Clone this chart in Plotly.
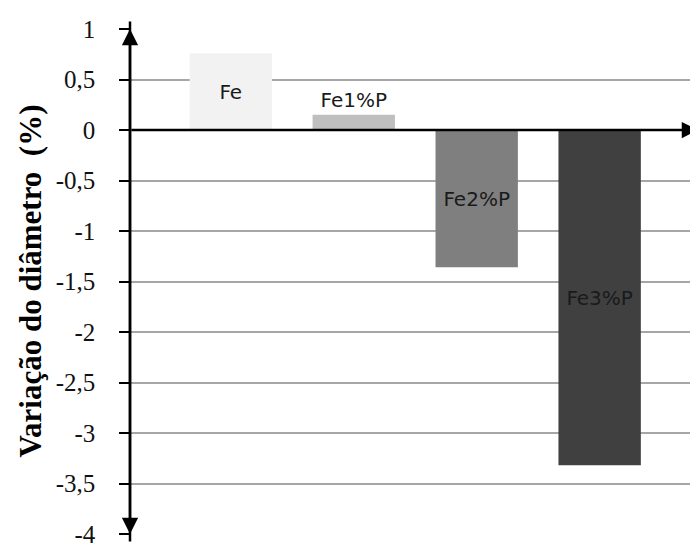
import plotly.graph_objects as go

categories = ["Fe", "Fe1%P", "Fe2%P", "Fe3%P"]
values = [0.76, 0.15, -1.36, -3.32]
colors = ["#f2f2f2", "#bfbfbf", "#7f7f7f", "#404040"]
label_positions = ["inside", "outside", "inside", "inside"]
x_pos = [1, 2, 3, 4]
y_ticks = [1, 0.5, 0, -0.5, -1, -1.5, -2, -2.5, -3, -3.5, -4]
y_ticktext = [f"{v:g}".replace(".", ",") + "\u00a0\u00a0\u00a0" for v in y_ticks]
y_title = "Variação do diâmetro \u00a0(%)"

fig = go.Figure()
fig.add_trace(go.Bar(
    x=x_pos, y=values, width=0.67,
    marker=dict(color=colors, line=dict(width=0)),
    text=categories, textposition=label_positions,
    insidetextanchor="middle", textangle=0, constraintext="none",
    cliponaxis=False,
    textfont=dict(family="DejaVu Sans", size=20, color="#1a1a1a"),
    showlegend=False, hoverinfo="skip",
))

fig.update_layout(
    width=698, height=548,
    margin=dict(l=122, r=8, t=14, b=20),
    plot_bgcolor="white", paper_bgcolor="white",
    xaxis=dict(range=[0.18, 4.8], showticklabels=False, showgrid=False,
               zeroline=False, showline=False, ticks=""),
    yaxis=dict(range=[-4, 1], tickvals=y_ticks, ticktext=y_ticktext,
               showgrid=True, gridcolor="#a6a6a6", gridwidth=2, zeroline=False,
               showline=False, ticks="outside", ticklen=10, tickwidth=2,
               tickcolor="black",
               tickfont=dict(family="Liberation Serif", size=25, color="#111")),
    bargap=0.33,
)

fig.add_annotation(xref="paper", yref="paper", x=0, y=0.5, xshift=-100,
                   xanchor="center", yanchor="middle", textangle=-90,
                   showarrow=False, text="<b>" + y_title + "</b>",
                   font=dict(family="Liberation Serif", size=31, color="black"))

# axis arrows
fig.add_annotation(xref="paper", yref="paper", x=0, y=1, ax=0, ay=514,
                   axref="pixel", ayref="pixel", showarrow=True, arrowhead=2,
                   arrowsize=1.3, arrowwidth=2.5, arrowcolor="black", text="")
fig.add_annotation(xref="paper", yref="paper", x=0, y=0, ax=0, ay=-514,
                   axref="pixel", ayref="pixel", showarrow=True, arrowhead=2,
                   arrowsize=1.3, arrowwidth=2.5, arrowcolor="black", text="")
fig.add_annotation(xref="paper", yref="y", x=1, y=0, ax=-568, ay=0,
                   axref="pixel", ayref="pixel", showarrow=True, arrowhead=2,
                   arrowsize=1.3, arrowwidth=2.5, arrowcolor="black", text="")

fig.write_html("out.html")
